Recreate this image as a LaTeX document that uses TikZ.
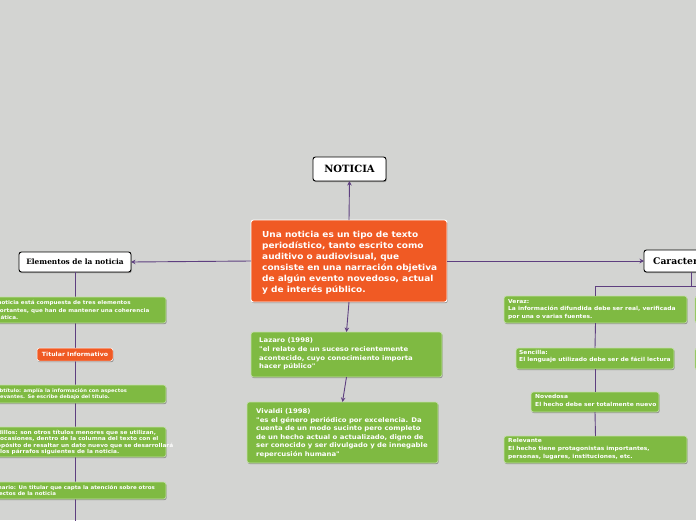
\documentclass[tikz,border=0pt]{standalone}
\usepackage{fontspec}
\newfontfamily\vfnt{DejaVu Sans}[FakeStretch=1.08]
\newfontfamily\serfnt{DejaVu Serif}
\usetikzlibrary{arrows.meta,shadows}
\definecolor{bgc}{HTML}{D3D4D2}
\definecolor{grn}{HTML}{7FBA42}
\definecolor{org}{HTML}{F05A24}
\definecolor{pur}{HTML}{5E3F80}
\tikzset{
  boxbase/.style={anchor=north west, inner sep=0pt, outer sep=0pt, rounded corners=2.5pt,
    drop shadow={shadow xshift=0.7pt, shadow yshift=-1.2pt, opacity=0.3, fill=black}},
  obox/.style={boxbase, fill=org, draw=white, line width=0.9pt},
  gbox/.style={boxbase, fill=grn, draw=grn!45!white, line width=0.6pt},
  wbox/.style={boxbase, fill=white, draw=black, line width=0.9pt},
  txt/.style={anchor=west, inner sep=0pt, align=left, text=white},
  otxt/.style={txt, font=\vfnt\bfseries\fontsize{8.3}{11}\selectfont},
  ltxt/.style={txt, font=\vfnt\bfseries\fontsize{6.4}{8.7}\selectfont},
  rtxt/.style={txt, font=\vfnt\bfseries\fontsize{5.5}{7.7}\selectfont},
  stxt/.style={txt, font=\vfnt\bfseries\fontsize{4.8}{6.5}\selectfont},
  sertxt/.style={font=\serfnt\bfseries, text=black, inner sep=0pt},
  conn/.style={draw=pur, line width=0.9pt},
  arr/.style={conn, -{Stealth[length=4.5pt,width=4.5pt]}},
}
\begin{document}
\begin{tikzpicture}[x=1pt,y=-1pt]
\fill[bgc] (0,0) rectangle (696,520);
\useasboundingbox (0,0) rectangle (696,520);
\clip (0,0) rectangle (696,520);

% coordinates for free ends
\coordinate (lbot) at (75,530);
\coordinate (rr) at (760,286);

% boxes (shapes)
\node[wbox, minimum width=73, minimum height=24] (not) at (313,157) {};
\node[obox, minimum width=196, minimum height=82] (orgb) at (251,220) {};
\node[wbox, minimum width=112, minimum height=20] (elem) at (19,252) {};
\node[wbox, minimum width=94, minimum height=22] (car) at (644,250) {};
\node[gbox, minimum width=191, minimum height=45] (laz) at (251,332) {};
\node[gbox, minimum width=191, minimum height=61] (viv) at (247,402) {};

% right column
\node[gbox, minimum width=183, minimum height=27] (ver) at (504,296) {};
\node[gbox, minimum width=158, minimum height=21] (sen) at (516,348) {};
\node[gbox, minimum width=128, minimum height=20] (nov) at (531,392) {};
\node[gbox, minimum width=183, minimum height=27] (rel) at (504,436) {};
\node[gbox, minimum width=60, minimum height=27] (rxa) at (695,296) {};
\node[gbox, minimum width=60, minimum height=22] (rxb) at (695,348) {};

% connectors
\draw[conn] (elem.south) -- (lbot);
\draw[conn] (car.south) -- (car.south |- rr);
\draw[conn] (ver.north) |- (rr);
\draw[conn] (ver.south) -- (sen.north);
\draw[conn] (sen.south) -- (nov.north);
\draw[conn] (nov.south) -- (rel.north);
\draw[arr] (orgb.north) -- (not.south);
\draw[arr] (orgb.west) -- (elem.east);
\draw[arr] (orgb.east) -- (car.west);
\draw[arr] (orgb.south) -- (laz.north);
\draw[arr] (laz.south) -- (viv.north);

% left column (drawn over the vertical line)
\node[gbox, minimum width=186, minimum height=26] (l1) at (-20,297) {};
\node[obox, line width=0.5pt, minimum width=76, minimum height=13] (tit) at (37,348) {};
\node[gbox, minimum width=186, minimum height=18] (l3) at (-20,385) {};
\node[gbox, minimum width=186, minimum height=30] (l4) at (-20,427) {};
\node[gbox, minimum width=186, minimum height=17] (l5) at (-20,482) {};

% texts
\node[sertxt, font=\serfnt\bfseries\fontsize{10}{12}\selectfont] (nott) at (not.center) {NOTICIA};
\node[sertxt, font=\serfnt\bfseries\fontsize{7.4}{9}\selectfont] (elemt) at (elem.center) {Elementos de la noticia};
\node[sertxt, font=\serfnt\bfseries\fontsize{9.2}{11}\selectfont, anchor=west] (cart) at (653,261) {Características};

\node[otxt] (orgt) at (262,262.5) {Una noticia es un tipo de texto\\periodístico, tanto escrito como\\auditivo o audiovisual, que\\consiste en una narración objetiva\\de algún evento novedoso, actual\\y de interés público.};

\node[ltxt] (lazt) at (259,354) {Lazaro (1998)\\"el relato de un suceso recientemente\\acontecido, cuyo conocimiento importa\\hacer público"};
\node[ltxt, font=\vfnt\bfseries\fontsize{6.4}{8.5}\selectfont] (vivt) at (256,433) {Vivaldi (1998)\\"es el género periódico por excelencia. Da\\cuenta de un modo sucinto pero completo\\de un hecho actual o actualizado, digno de\\ser conocido y ser divulgado y de innegable\\repercusión humana"};

\node[rtxt] (vert) at (508,309.5) {Veraz:\\La información difundida debe ser real, verificada\\por una o varias fuentes.};
\node[rtxt] (sent) at (519,356.5) {Sencilla:\\El lenguaje utilizado debe ser de fácil lectura};
\node[rtxt] (novt) at (535,400.5) {Novedosa\\El hecho debe ser totalmente nuevo};
\node[rtxt] (relt) at (508,449) {Relevante\\El hecho tiene protagonistas importantes,\\personas, lugares, instituciones, etc.};

\node[txt, font=\vfnt\bfseries\fontsize{5.2}{7.7}\selectfont] (l1t) at (-12,310) {La noticia está compuesta de tres elementos\\importantes, que han de mantener una coherencia\\temática.};
\node[txt, font=\vfnt\bfseries\fontsize{5.75}{7}\selectfont, anchor=center] (titt) at (tit.center) {Titular Informativo};
\node[stxt] (l3t) at (-8,394) {Subtítulo: amplía la información con aspectos\\relevantes. Se escribe debajo del título.};
\node[stxt, font=\vfnt\bfseries\fontsize{5.35}{6.4}\selectfont] (l4t) at (-10,442.5) {Ladillos: son otros títulos menores que se utilizan,\\en ocasiones, dentro de la columna del texto con el\\propósito de resaltar un dato nuevo que se desarrollará\\en los párrafos siguientes de la noticia.};
\node[stxt, font=\vfnt\bfseries\fontsize{5.1}{6.5}\selectfont] (l5t) at (-12,491) {Sumario: Un titular que capta la atención sobre otros\\aspectos de la noticia};
\end{tikzpicture}
\end{document}
